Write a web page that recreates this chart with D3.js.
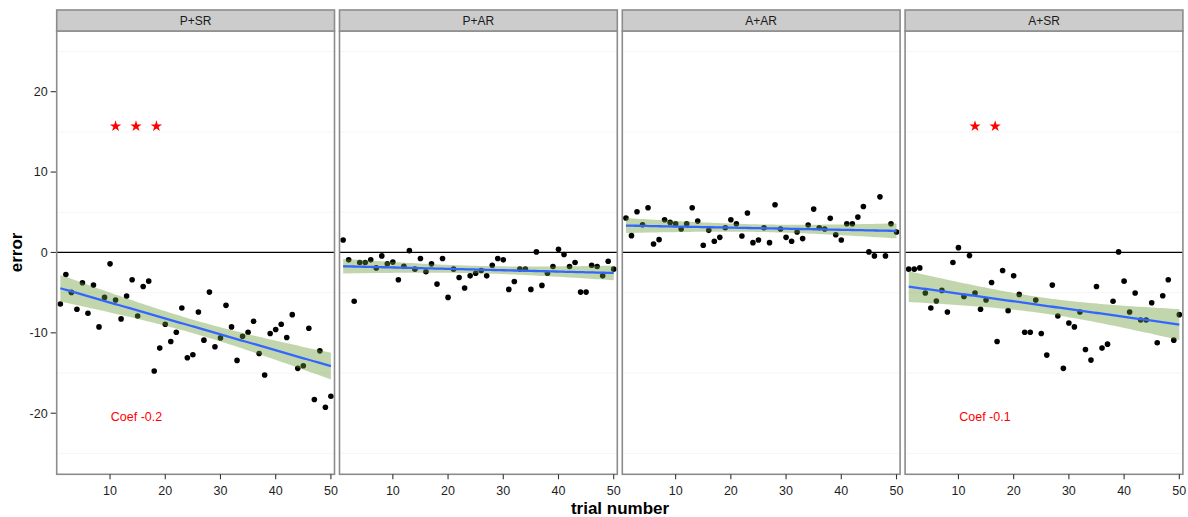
<!DOCTYPE html>
<html><head><meta charset="utf-8">
<script src="https://cdn.jsdelivr.net/npm/d3@7"></script>
<style>body{margin:0;background:#fff} text{font-family:"Liberation Sans",Arial,sans-serif}</style>
</head><body><svg id="c" width="1188" height="517"></svg>
<script>
const panels = ["P+SR", "P+AR", "A+AR", "A+SR"];
const trials = d3.range(1, 51);
const errPSR = [-6.41,-2.74,-4.97,-7.07,-3.77,-7.57,-4.06,-9.26,-5.59,-1.42,-5.92,-8.27,-5.42,-3.40,-7.90,-4.23,-3.57,-14.75,-11.90,-8.93,-11.08,-9.92,-6.91,-13.10,-12.73,-7.41,-10.91,-4.93,-11.74,-10.63,-6.58,-9.26,-13.43,-10.42,-9.92,-8.56,-12.57,-15.25,-10.09,-9.59,-8.93,-10.58,-7.74,-14.42,-14.09,-9.43,-18.30,-12.24,-19.25,-17.89];
const errPAR = [1.55,-0.92,-6.08,-1.25,-1.25,-0.92,-1.92,-0.43,-1.42,-1.2,-3.40,-1.71,0.23,-2.08,-0.76,-2.41,-1.42,-3.94,-0.76,-5.59,-2.08,-3.11,-4.43,-2.91,-2.58,-2.25,-2.91,-1.59,-0.76,-0.92,-4.60,-3.61,-2.08,-2.08,-4.60,0.07,-4.10,-2.58,-1.75,0.40,-0.26,-1.75,-1.25,-4.93,-4.93,-1.59,-1.75,-2.91,-1.09,-2.08];
const errAAR = [4.28,2.09,5.06,3.45,5.56,1.06,1.59,4.07,3.74,3.57,2.91,3.57,5.56,3.90,0.89,2.75,1.39,1.88,3.08,4.07,3.57,2.05,4.90,1.22,1.55,3.08,1.22,5.93,2.91,1.88,1.39,2.54,1.72,3.41,5.39,3.08,2.91,4.24,2.21,1.55,3.57,3.57,4.40,5.72,0.07,-0.43,6.92,-0.43,3.57,2.54];
const errASR = [-2.08,-2.08,-1.92,-5.05,-6.91,-6.04,-4.72,-7.41,-1.25,0.60,-5.47,-0.39,-5.05,-7.07,-5.92,-3.73,-11.08,-2.25,-7.24,-2.91,-5.22,-9.92,-9.92,-5.92,-10.09,-12.77,-4.06,-7.90,-14.42,-8.77,-9.26,-7.41,-12.07,-13.39,-4.23,-11.90,-11.41,-6.08,0.07,-3.57,-7.41,-5.05,-8.40,-8.40,-6.25,-11.24,-5.38,-3.40,-10.91,-7.74];
const seriesValues = [errPSR, errPAR, errAAR, errASR];
const xTicks = [10, 20, 30, 40, 50];
const yTicks = [-20, -10, 0, 10, 20];
const yMinor = [-25, -15, -5, 5, 15, 25];
const starX = [[11, 14.7, 18.4], [], [], [13, 16.65]];
const starY = 15.7;
const coefLabels = ["Coef -0.2", "", "", "Coef -0.1"];
const coefX = 14.8, coefY = -20.4;

const svg = d3.select("#c");
const panelTop = 31, panelBottom = 474.3, stripTop = 10;
const panelW = 277.8, step = 282.8, left0 = 56.7;

const x = d3.scaleLinear().domain([0.34, 50.65]).range([0, panelW]);
const y = d3.scaleLinear().domain([-27.6, 27.55]).range([panelBottom, panelTop]);

function fit(xs, ys) {
  const n = xs.length, mx = d3.mean(xs), my = d3.mean(ys);
  let sxx = 0, sxy = 0;
  for (let i = 0; i < n; i++) { sxx += (xs[i]-mx)**2; sxy += (xs[i]-mx)*(ys[i]-my); }
  const b = sxy / sxx, a = my - b * mx;
  let sse = 0;
  for (let i = 0; i < n; i++) sse += (ys[i] - a - b*xs[i])**2;
  const s = Math.sqrt(sse / (n - 2)), t = 2.0106;
  const grid = d3.range(0, 80).map(k => 1 + k * 49 / 79);
  return grid.map(gx => {
    const f = a + b * gx;
    const se = s * Math.sqrt(1/n + (gx-mx)**2 / sxx);
    return {x: gx, y: f, lo: f - t*se, hi: f + t*se};
  });
}

panels.forEach((name, k) => {
  const g = svg.append("g").attr("transform", `translate(${left0 + k*step},0)`);
  g.append("rect").attr("x", 0).attr("y", panelTop).attr("width", panelW).attr("height", panelBottom-panelTop).attr("fill", "#fff");
  g.selectAll(".mg").data(yMinor).join("line")
    .attr("x1", 0).attr("x2", panelW).attr("y1", d => y(d)).attr("y2", d => y(d))
    .attr("stroke", "#f6f6f6").attr("stroke-width", 1);
  g.append("line").attr("x1", 0).attr("x2", panelW).attr("y1", y(0)).attr("y2", y(0))
    .attr("stroke", "#000").attr("stroke-width", 1.2);
  const vals = seriesValues[k];
  g.selectAll(".pt").data(trials).join("circle")
    .attr("cx", d => x(d)).attr("cy", (d, i) => y(vals[i])).attr("r", 2.8).attr("fill", "#000");
  const f = fit(trials, vals);
  g.append("path").datum(f)
    .attr("d", d3.area().x(d => x(d.x)).y0(d => y(d.lo)).y1(d => y(d.hi)))
    .attr("fill", "#669933").attr("fill-opacity", 0.4);
  g.append("path").datum(f)
    .attr("d", d3.line().x(d => x(d.x)).y(d => y(d.y)))
    .attr("fill", "none").attr("stroke", "#3366FF").attr("stroke-width", 2.3);
  g.selectAll(".st").data(starX[k]).join("path")
    .attr("d", d3.symbol().type(d3.symbolStar).size(40))
    .attr("transform", d => `translate(${x(d)},${y(starY)})`)
    .attr("fill", "#ff0000");
  if (coefLabels[k]) {
    g.append("text").attr("x", x(coefX)).attr("y", y(coefY) + 4.5)
      .attr("text-anchor", "middle").attr("font-size", 12.5).attr("fill", "#ff0000").text(coefLabels[k]);
  }
  g.append("rect").attr("x", 0).attr("y", panelTop).attr("width", panelW).attr("height", panelBottom-panelTop)
    .attr("fill", "none").attr("stroke", "#8c8c8c").attr("stroke-width", 1.6);
  g.append("rect").attr("x", 0).attr("y", stripTop).attr("width", panelW).attr("height", panelTop-stripTop)
    .attr("fill", "#cccccc").attr("stroke", "#8c8c8c").attr("stroke-width", 1.6);
  g.append("text").attr("x", panelW/2).attr("y", (stripTop+panelTop)/2 + 4.3)
    .attr("text-anchor", "middle").attr("font-size", 12).attr("fill", "#1a1a1a").text(name);
  const xa = g.append("g").attr("transform", `translate(0,${panelBottom})`);
  xa.selectAll("line").data(xTicks).join("line")
    .attr("x1", d => x(d)).attr("x2", d => x(d)).attr("y1", 0).attr("y2", 5)
    .attr("stroke", "#333").attr("stroke-width", 1.1);
  xa.selectAll("text").data(xTicks).join("text")
    .attr("x", d => x(d)).attr("y", 21).attr("text-anchor", "middle")
    .attr("font-size", 12.5).attr("fill", "#1e1e1e").text(d => d);
});

const ya = svg.append("g");
ya.selectAll("line").data(yTicks).join("line")
  .attr("x1", left0 - 6).attr("x2", left0 - 0.8).attr("y1", d => y(d)).attr("y2", d => y(d))
  .attr("stroke", "#333").attr("stroke-width", 1.1);
ya.selectAll("text").data(yTicks).join("text")
  .attr("x", left0 - 9).attr("y", d => y(d) + 4.4).attr("text-anchor", "end")
  .attr("font-size", 12.5).attr("fill", "#1e1e1e").text(d => d);

svg.append("text").attr("transform", `translate(22,${y(0)}) rotate(-90)`)
  .attr("text-anchor", "middle").attr("font-size", 17).attr("font-weight", "bold").attr("fill", "#000").text("error");
svg.append("text").attr("x", 620).attr("y", 514)
  .attr("text-anchor", "middle").attr("font-size", 17).attr("font-weight", "bold").attr("fill", "#000").text("trial number");
</script></body></html>
